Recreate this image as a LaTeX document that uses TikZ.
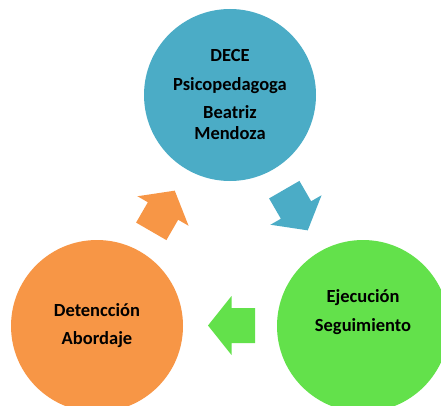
\documentclass[tikz,border=0pt]{standalone}
\usepackage{fontspec}
\setmainfont{Carlito}
\definecolor{deceblue}{HTML}{4BACC6}
\definecolor{abordajeorange}{HTML}{F79646}
\definecolor{seguimientogreen}{HTML}{63E14B}

\begin{document}
\begin{tikzpicture}[x=1pt,y=1pt,line join=round,
  bubble/.style={circle,minimum size=172pt,inner sep=0pt},
  caption/.style={align=center,font=\fontsize{18.5}{21}\selectfont\bfseries}]
\clip (0,0) rectangle (441,405);
% circles
\node[bubble,fill=deceblue] (dece) at (230,310) {};
\node[bubble,fill=abordajeorange] (abordaje) at (97,79) {};
\node[bubble,fill=seguimientogreen] (seguimiento) at (363,79) {};
% texts
\node[caption] (dece text) at (230,310) {DECE\\[8pt]Psicopedagoga\\[7pt]Beatriz\\Mendoza};
\node[caption] (abordaje text) at (97,79) {Detencción\\[7pt]Abordaje};
\node[caption] (seguimiento text) at (363,93) {Ejecución\\[8pt]Seguimiento};
% block arrows
\fill[deceblue,shift={(296,195)},rotate=-60] (-23.5,17.5) -- (0,17.5) -- (0,29.5) -- (23.5,0) -- (0,-29.5) -- (0,-17.5) -- (-23.5,-17.5) -- cycle;
\fill[seguimientogreen,shift={(231.5,79.5)},rotate=180] (-23.5,17.5) -- (0,17.5) -- (0,29.5) -- (23.5,0) -- (0,-29.5) -- (0,-17.5) -- (-23.5,-17.5) -- cycle;
\fill[abordajeorange,shift={(163,194)},rotate=60] (-23.5,17.5) -- (0,17.5) -- (0,29.5) -- (23.5,0) -- (0,-29.5) -- (0,-17.5) -- (-23.5,-17.5) -- cycle;
\end{tikzpicture}
\end{document}
